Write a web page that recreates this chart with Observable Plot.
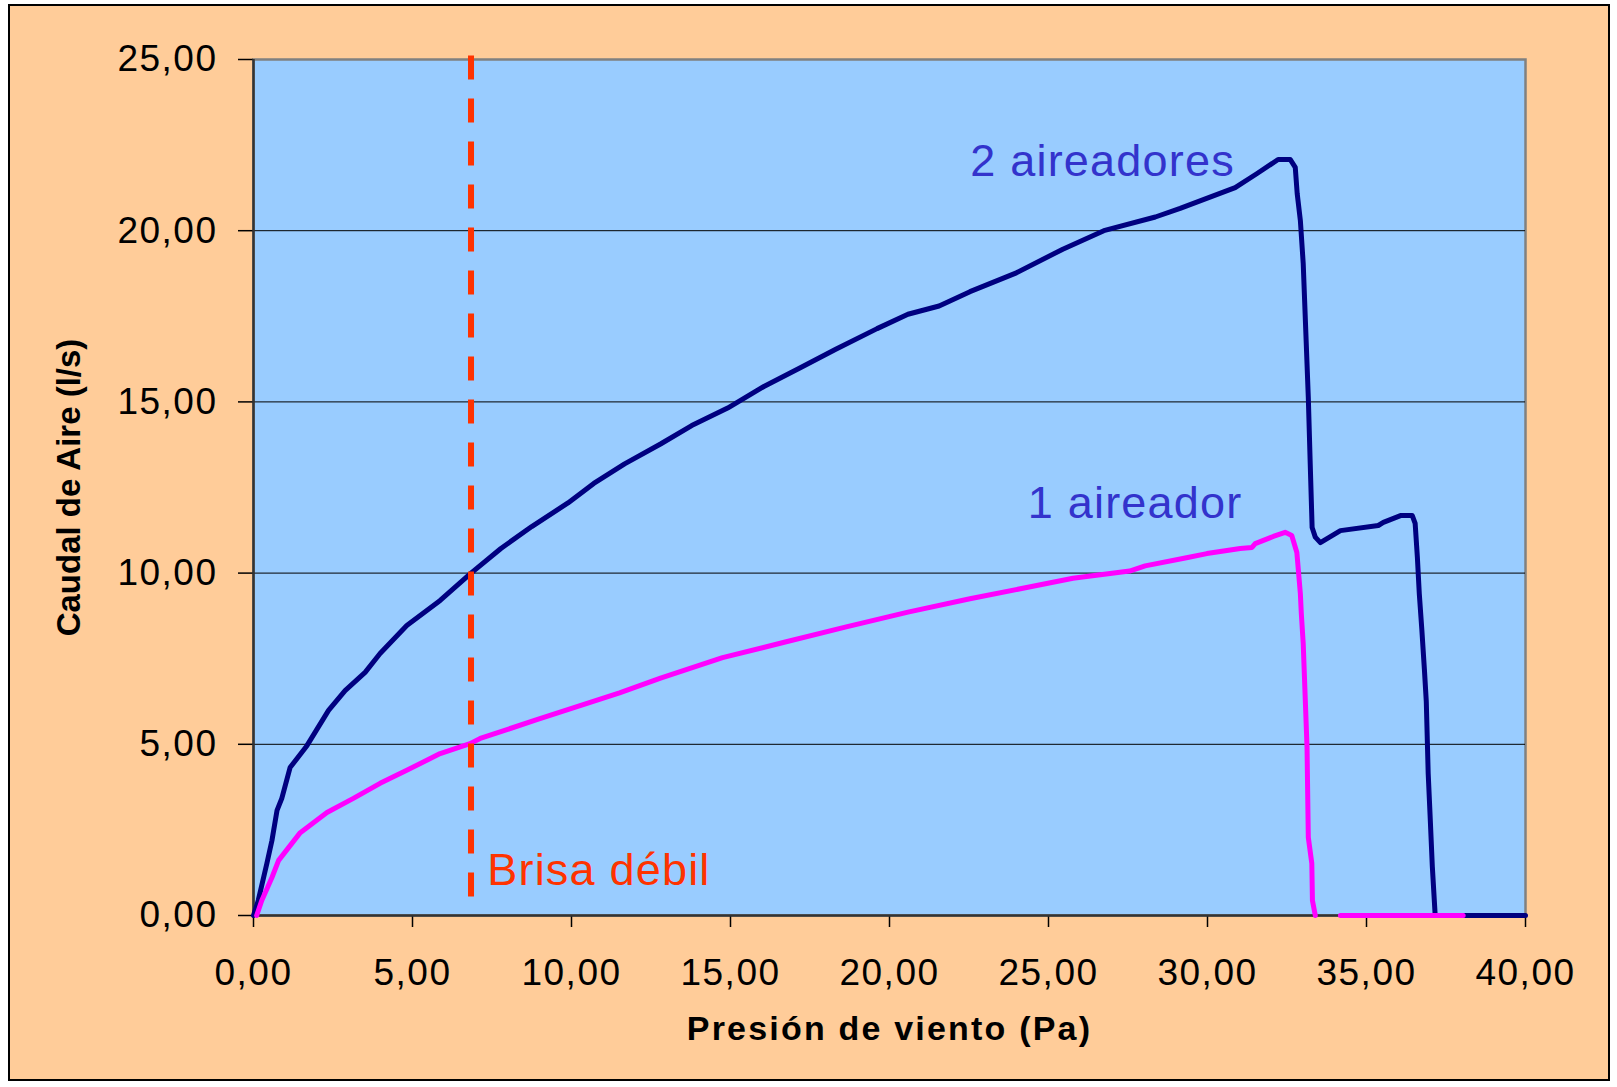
<!DOCTYPE html>
<html>
<head>
<meta charset="utf-8">
<script src="https://cdn.jsdelivr.net/npm/d3@7"></script>
<script src="https://cdn.jsdelivr.net/npm/@observablehq/plot@0.6"></script>
<style>
  html, body { margin: 0; padding: 0; background: #ffffff; }
  #wrap { position: relative; width: 1617px; height: 1087px; }
  #bg { position: absolute; left: 8px; top: 4px; width: 1602px; height: 1077px; box-sizing: border-box;
        background: #FFCC99; border: 2px solid #000; }
  #chart { position: absolute; left: 0; top: 0; }
  #chart svg { background: transparent !important; }
</style>
</head>
<body>
<div id="wrap"><div id="bg"></div><div id="chart"></div></div>
<script>
// ---- data ----
const pressure2 = [0, 0.15, 0.42, 0.58, 0.74, 0.89, 1.15, 1.68, 2.36, 2.88, 3.51, 3.98, 4.82, 5.87, 6.84, 7.78, 8.75, 9.89, 10.70, 11.67, 12.80, 13.78, 14.91, 16.05, 17.18, 18.31, 19.61, 20.58, 21.56, 22.53, 23.99, 25.45, 26.74, 28.36, 29.14, 30.87, 31.56, 32.22, 32.60, 32.76, 32.82, 32.92, 33.01, 33.17, 33.23, 33.29, 33.39, 33.55, 34.18, 35.37, 35.53, 36.07, 36.44, 36.53, 36.60, 36.66, 36.74, 36.82, 36.88, 36.94, 37.00, 37.07, 37.16, 40.00];
const flow2     = [0, 0.44, 1.52, 2.19, 3.07, 3.42, 4.32, 4.96, 5.99, 6.57, 7.10, 7.65, 8.47, 9.20, 10.00, 10.72, 11.36, 12.05, 12.62, 13.19, 13.77, 14.31, 14.82, 15.45, 15.99, 16.54, 17.14, 17.56, 17.80, 18.22, 18.77, 19.46, 20.00, 20.40, 20.65, 21.26, 21.67, 22.08, 22.08, 21.85, 21.09, 20.30, 19.04, 15.13, 13.20, 11.33, 11.05, 10.89, 11.24, 11.39, 11.48, 11.68, 11.68, 11.45, 10.46, 9.40, 8.35, 7.20, 6.25, 4.15, 2.92, 1.43, 0, 0];

const pressure1 = [0.10, 0.26, 0.58, 0.79, 1.47, 2.31, 3.14, 3.98, 4.82, 5.87, 6.81, 7.13, 8.91, 11.51, 12.80, 14.75, 16.69, 18.64, 20.58, 22.53, 24.47, 25.77, 27.55, 28.04, 29.34, 29.98, 31.03, 31.40, 31.50, 32.07, 32.44, 32.65, 32.81, 32.92, 32.95, 33.01, 33.13, 33.17, 33.28, 33.30, 33.39, 33.80, 34.18, 38.04];
const flow1     = [0, 0.44, 1.11, 1.61, 2.42, 3.01, 3.42, 3.86, 4.24, 4.73, 5.02, 5.17, 5.72, 6.50, 6.93, 7.53, 7.98, 8.43, 8.86, 9.25, 9.61, 9.85, 10.06, 10.21, 10.45, 10.57, 10.72, 10.75, 10.86, 11.07, 11.19, 11.10, 10.60, 9.40, 8.82, 7.94, 4.91, 2.28, 1.52, 0.44, 0, NaN, 0, 0];

const brisaPressure = 6.84;
const xTicks = [0, 5, 10, 15, 20, 25, 30, 35, 40];
const yTicks = [0, 5, 10, 15, 20, 25];
const gridValues = [5, 10, 15, 20];
const labels = [
  {text: "2 aireadores", x: 22.54, y: 21.61, color: "#3333CC"},
  {text: "1 aireador",   x: 24.35, y: 11.62, color: "#3333CC"},
  {text: "Brisa débil",  x: 7.35,  y: 0.88,  color: "#FF3300"}
];
const xTitle = "Presión de viento (Pa)";
const yTitle = "Caudal de Aire (l/s)";

const series2 = pressure2.map((p, i) => ({p, q: flow2[i]}));
const series1 = pressure1.map((p, i) => ({p, q: flow1[i]}));
const fmt = d => d.toFixed(2).replace(".", ",");
const FONT = "'Liberation Sans', Arial, sans-serif";

const chart = Plot.plot({
  width: 1617,
  height: 1087,
  marginTop: 59,
  marginLeft: 253,
  marginRight: 92,
  marginBottom: 172,
  style: {fontFamily: FONT, background: "transparent", color: "#000"},
  x: {domain: [0, 40]},
  y: {domain: [0, 25]},
  marks: [
    Plot.frame({fill: "#99CCFF", stroke: "#808080", strokeWidth: 2.5}),
    Plot.ruleY(gridValues, {stroke: "#000", strokeWidth: 1}),
    Plot.axisX({ticks: xTicks, tickFormat: fmt, tickSize: 12, tickPadding: 31, fontSize: 37, label: null, stroke: "#000", strokeWidth: 1.5}),
    Plot.axisY({ticks: yTicks, tickFormat: fmt, tickSize: 15, tickPadding: 21, fontSize: 37, label: null, stroke: "#000", strokeWidth: 1.5}),
    Plot.ruleX([0], {stroke: "#333", strokeWidth: 2.5}),
    Plot.ruleY([0], {stroke: "#333", strokeWidth: 2.5}),
    Plot.line(series2, {x: "p", y: "q", stroke: "#000080", strokeWidth: 5, strokeLinejoin: "round", strokeLinecap: "round"}),
    Plot.line(series1, {x: "p", y: "q", stroke: "#FF00FF", strokeWidth: 5, strokeLinejoin: "round", strokeLinecap: "round"}),
    Plot.ruleX([brisaPressure], {y1: 25.1, y2: 0, stroke: "#FF3300", strokeWidth: 6, strokeDasharray: "24,19"}),
    Plot.text(labels, {x: "x", y: "y", text: "text", fill: d => d.color, fontSize: 45, textAnchor: "start", lineAnchor: "bottom"}),
    Plot.text([xTitle], {frameAnchor: "bottom", dy: 124, fontSize: 34, fontWeight: "bold", fill: "#000", textAnchor: "middle"}),
    Plot.text([yTitle], {frameAnchor: "left", dx: -184, rotate: -90, fontSize: 33, fontWeight: "bold", fill: "#000", textAnchor: "middle", lineAnchor: "middle"})
  ]
});
document.getElementById("chart").appendChild(chart);

// fine typography tweaks
const annTexts = new Set(labels.map(d => d.text));
d3.select(chart).selectAll("text").each(function() {
  const t = this.textContent;
  if (t === xTitle) d3.select(this).style("letter-spacing", "2.2px");
  else if (annTexts.has(t)) d3.select(this).style("letter-spacing", "1.2px");
  else if (/^\d+,\d\d$/.test(t)) d3.select(this).style("letter-spacing", "1.5px");
});
</script>
</body>
</html>
